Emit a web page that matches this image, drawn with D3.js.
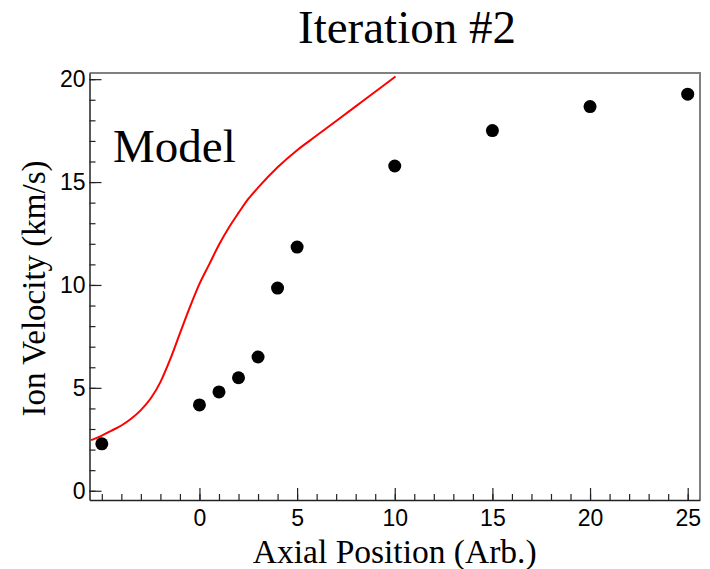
<!DOCTYPE html>
<html>
<head>
<meta charset="utf-8">
<script src="https://cdn.jsdelivr.net/npm/d3@7"></script>
<style>
  body { margin: 0; background: #fff; }
  svg { display: block; }
</style>
</head>
<body>
<div id="chart"></div>
<script>
// measured points
let posX = [-5, 0, 1, 2, 3, 4, 5, 10, 15, 20, 25];
let velY = [2.28, 4.17, 4.8, 5.49, 6.5, 9.85, 11.84, 15.78, 17.5, 18.67, 19.27];

// model curve
let modelX = [-5.55, -5, -4.5, -4, -3.5, -3, -2.5, -2, -1.5, -1, -0.5, 0, 0.5, 1, 1.5, 2, 2.5, 3, 4, 5, 6, 7, 8, 9, 10.04];
let modelY = [2.46, 2.68, 2.92, 3.17, 3.5, 3.92, 4.48, 5.28, 6.38, 7.65, 8.9, 10.05, 11.0, 11.95, 12.78, 13.5, 14.18, 14.73, 15.72, 16.55, 17.26, 17.97, 18.68, 19.39, 20.13];

let xTicks = [0, 5, 10, 15, 20, 25];
let yTicks = [0, 5, 10, 15, 20];

let width = 710,
    height = 569;
let margin = {top: 73, right: 10, bottom: 69, left: 89.5};
let serif = "'Liberation Serif', 'Times New Roman', serif";
let sans = "'Liberation Sans', Arial, sans-serif";

let svg = d3.select("#chart").append("svg")
    .attr("width", width)
    .attr("height", height);

let x = d3.scaleLinear()
    .domain([-5.63, 25.63])
    .range([margin.left, width - margin.right]);

let y = d3.scaleLinear()
    .domain([-0.45, 20.3])
    .range([height - margin.bottom, margin.top]);

// frame (top & right)
svg.append("path")
    .attr("d", "M" + x.range()[0] + "," + y.range()[1] + "H" + x.range()[1] + "V" + y.range()[0])
    .attr("fill", "none")
    .attr("stroke", "#808080")
    .attr("stroke-width", 2);

// minor ticks
let minorX = d3.range(-5, 26, 1);
let minorY = d3.range(0, 21, 1);

svg.append("g")
    .attr("transform", "translate(0," + y.range()[0] + ")")
    .call(d3.axisBottom(x).tickValues(minorX).tickSize(-6).tickSizeOuter(0).tickFormat(""))
    .call(g => g.select(".domain").remove());

svg.append("g")
    .attr("transform", "translate(" + x.range()[0] + ",0)")
    .call(d3.axisLeft(y).tickValues(minorY).tickSize(-6).tickSizeOuter(0).tickFormat(""))
    .call(g => g.select(".domain").remove());

// major axes
let xAxis = svg.append("g")
    .attr("transform", "translate(0," + y.range()[0] + ")")
    .call(d3.axisBottom(x).tickValues(xTicks).tickSize(-12).tickSizeOuter(0).tickPadding(10));

let yAxis = svg.append("g")
    .attr("transform", "translate(" + x.range()[0] + ",0)")
    .call(d3.axisLeft(y).tickValues(yTicks).tickSize(-12).tickSizeOuter(0).tickPadding(4));

[xAxis, yAxis].forEach(function (a) {
    a.selectAll("text")
        .attr("font-family", sans)
        .attr("font-size", 23)
        .attr("fill", "#000");
    a.select(".domain").attr("stroke", "#222").attr("stroke-width", 1.5);
});
svg.selectAll(".tick line").attr("stroke", "#222").attr("stroke-width", 1.2);

// model curve
let line = d3.line()
    .x(function (d, i) { return x(modelX[i]); })
    .y(function (d) { return y(d); })
    .curve(d3.curveMonotoneX);

svg.append("path")
    .datum(modelY)
    .attr("d", line)
    .attr("fill", "none")
    .attr("stroke", "#ff0000")
    .attr("stroke-width", 2);

// data points
svg.selectAll("circle.pt")
    .data(velY)
    .enter().append("circle")
    .attr("class", "pt")
    .attr("cx", function (d, i) { return x(posX[i]); })
    .attr("cy", function (d) { return y(d); })
    .attr("r", 6.5)
    .attr("fill", "#000");

// texts
svg.append("text")
    .attr("x", 407)
    .attr("y", 43)
    .attr("text-anchor", "middle")
    .attr("font-family", serif)
    .attr("font-size", 47)
    .text("Iteration #2");

svg.append("text")
    .attr("x", 113)
    .attr("y", 162)
    .attr("font-family", serif)
    .attr("font-size", 47)
    .text("Model");

svg.append("text")
    .attr("x", (x.range()[0] + x.range()[1]) / 2)
    .attr("y", 563)
    .attr("text-anchor", "middle")
    .attr("font-family", serif)
    .attr("font-size", 33.5)
    .text("Axial Position (Arb.)");

svg.append("text")
    .attr("transform", "translate(45," + ((y.range()[0] + y.range()[1]) / 2 + 2) + ") rotate(-90)")
    .attr("text-anchor", "middle")
    .attr("font-family", serif)
    .attr("font-size", 33)
    .text("Ion Velocity (km/s)");
</script>
</body>
</html>
